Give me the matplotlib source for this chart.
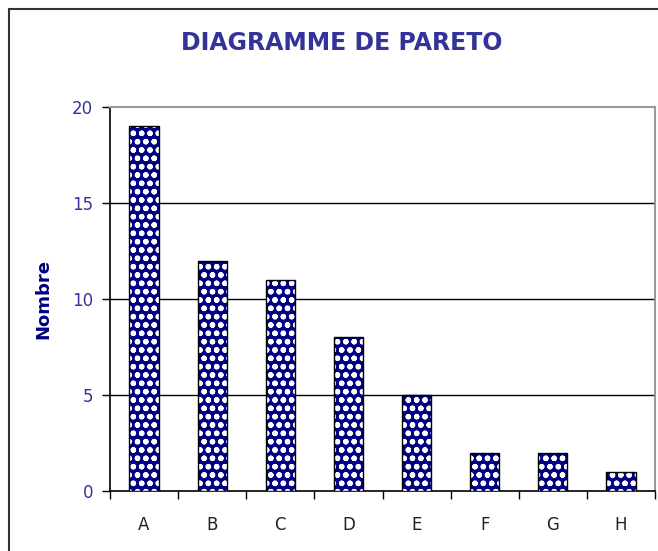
import numpy as np
import matplotlib
matplotlib.use('agg')
import matplotlib.pyplot as plt
from matplotlib.patches import Rectangle

# data
categories = ['A', 'B', 'C', 'D', 'E', 'F', 'G', 'H']
counts = [19, 12, 11, 8, 5, 2, 2, 1]
yticks = [0, 5, 10, 15, 20]

navy = '#000080'
label_blue = '#333399'

plt.rcParams['hatch.linewidth'] = 1.6

fig = plt.figure(figsize=(6.58, 5.51), dpi=100)
ax = fig.add_axes([110/658, 1 - 491/551, 545/658, 384/551])

x = np.arange(len(categories))
# patterned fill, then a plain black outline on top
ax.bar(x, counts, width=0.43, color=navy, edgecolor='white', hatch='oo', linewidth=0, zorder=3)
ax.bar(x, counts, width=0.43, fill=False, edgecolor='black', linewidth=1, zorder=4)

ax.set_xlim(-0.5, len(categories) - 0.5)
ax.set_ylim(0, 20)
ax.set_yticks(yticks)
ax.set_yticklabels([str(t) for t in yticks], color=label_blue, fontsize=12)
ax.set_xticks(x)
ax.set_xticklabels(categories, fontsize=12, color='#222222')
ax.set_xticks(np.arange(len(categories) + 1) - 0.5, minor=True)
ax.tick_params(axis='x', which='major', length=0, pad=18)
ax.tick_params(axis='x', which='minor', length=6, direction='out', width=1)
ax.tick_params(axis='y', length=6, direction='out', width=1, pad=6)

for t in yticks[1:-1]:
    ax.axhline(t, color='black', linewidth=1, zorder=1)

ax.spines['top'].set_color('#999999')
ax.spines['right'].set_color('#999999')
ax.spines['top'].set_linewidth(1.5)
ax.spines['right'].set_linewidth(1.5)
ax.spines['left'].set_linewidth(1.2)
ax.spines['bottom'].set_linewidth(1.2)

ax.set_ylabel('Nombre', color=navy, fontsize=13, fontweight='bold', labelpad=14)
fig.text(342/658, 1 - 43/551, 'DIAGRAMME DE PARETO', color=label_blue,
         fontsize=17, fontweight='bold', ha='center', va='center')

# outer chart frame (only left and top edges visible)
fig.add_artist(Rectangle((9/658, -0.1), 1.2, 1 - 9/551 + 0.1, transform=fig.transFigure,
                         fill=False, edgecolor='#333333', linewidth=1.5))

fig.savefig('out.png', dpi=100)
